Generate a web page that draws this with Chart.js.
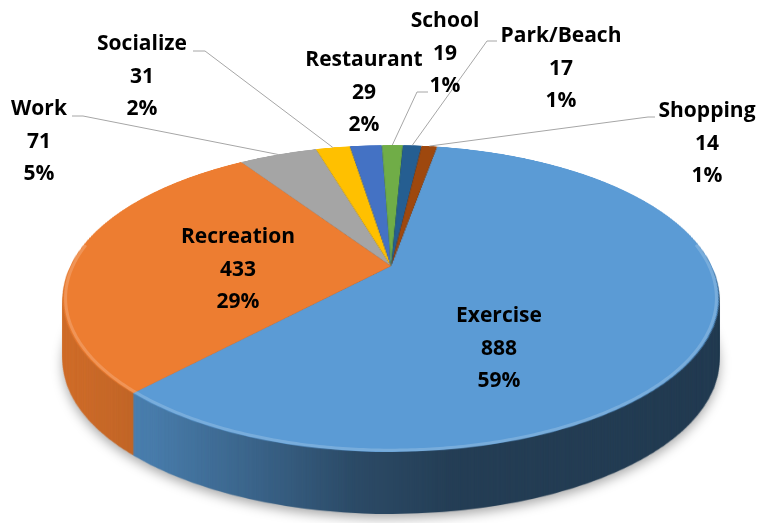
<!DOCTYPE html>
<html>
<head>
<meta charset="utf-8">
<script src="https://cdn.jsdelivr.net/npm/chart.js@4.4.0/dist/chart.umd.min.js"></script>
<style>
  html, body { margin: 0; padding: 0; background: #fff; }
  #chart { display: block; }
</style>
</head>
<body>
<canvas id="chart" width="765" height="523"></canvas>
<script>
// data
const categories = ["Exercise", "Recreation", "Work", "Socialize", "Restaurant", "School", "Park/Beach", "Shopping"];
const visits = [888, 433, 71, 31, 29, 19, 17, 14];

// styles
const sliceColors = ["#5B9BD5", "#ED7D31", "#A5A5A5", "#FFC000", "#4472C4", "#70AD47", "#255E91", "#9E480E"];

// where the tilted pie lands on the page (perspective fit)
const tilt = { cx: 391, cy: 266, rx: 320.6, ry: 146.6, persp: 0.2117, depth: 62 };

// label blocks: centre x, first baseline
const labelSpots = [[499, 322], [238, 243], [39, 115], [142, 50], [364, 66], [445, 27], [561, 42], [707, 117]];
// leader lines: elbow x, elbow y, end x (null = none)
const leaders = [null, null, [83, 116, 72], [205, 51, 193], null, [417, 92, 428], [487, 41, 497], [648, 117, 655]];

const total = visits.reduce((a, b) => a + b, 0);

function project(dx, dy, R) {
  const u = dy / R;
  const w = 1 - tilt.persp * u;
  return [tilt.cx + (tilt.rx * dx) / R / w, tilt.cy + (tilt.ry * u) / w];
}

// squash the flat pie into a 3d looking disc
const tiltPlugin = {
  id: "tilt",
  afterDatasetsDraw(chart) {
    const ctx = chart.ctx;
    const cv = chart.canvas;
    const W = cv.width, H = cv.height;
    const arc = chart.getDatasetMeta(0).data[0];
    const R = arc.outerRadius, ox = arc.x, oy = arc.y;

    const flat = document.createElement("canvas");
    flat.width = W; flat.height = H;
    flat.getContext("2d").drawImage(cv, 0, 0);

    const top = document.createElement("canvas");
    top.width = W; top.height = H;
    const tctx = top.getContext("2d");
    const y0 = Math.floor(tilt.cy - tilt.ry / (1 + tilt.persp)) - 1;
    const y1 = Math.ceil(tilt.cy + tilt.ry / (1 - tilt.persp)) + 1;
    for (let y = y0; y <= y1; y++) {
      const d = y + 0.5 - tilt.cy;
      const u = d / (tilt.ry + tilt.persp * d);
      if (u < -1 || u > 1) continue;
      let sh = Math.max(1, (R * tilt.ry) / Math.pow(tilt.ry + tilt.persp * d, 2));
      let sy = oy + u * R - sh / 2;
      if (sy < 0) { sh += sy; sy = 0; }
      if (sy + sh > H) sh = H - sy;
      if (sh <= 0) continue;
      const s = tilt.rx / R / (1 - tilt.persp * u);
      tctx.drawImage(flat, ox - R - 2, sy, 2 * R + 4, sh, tilt.cx - s * (R + 2), y, s * (2 * R + 4), 1);
    }

    // side wall = darker copy of the top
    const side = document.createElement("canvas");
    side.width = W; side.height = H;
    const sctx = side.getContext("2d");
    sctx.drawImage(top, 0, 0);
    sctx.globalCompositeOperation = "source-atop";
    const g = sctx.createLinearGradient(60, 0, 720, 0);
    g.addColorStop(0, "rgba(0,0,0,0.12)");
    g.addColorStop(0.14, "rgba(0,0,0,0.2)");
    g.addColorStop(0.3, "rgba(0,0,0,0.36)");
    g.addColorStop(0.45, "rgba(0,0,0,0.52)");
    g.addColorStop(0.6, "rgba(0,0,0,0.6)");
    g.addColorStop(1, "rgba(0,0,0,0.62)");
    sctx.fillStyle = g;
    sctx.fillRect(0, 0, W, H);

    ctx.save();
    ctx.setTransform(1, 0, 0, 1, 0, 0);
    ctx.clearRect(0, 0, W, H);
    for (let i = tilt.depth; i >= 1; i--) {
      if (i === tilt.depth) {
        ctx.shadowColor = "rgba(0,0,0,0.35)";
        ctx.shadowBlur = 12;
        ctx.shadowOffsetY = 4;
      } else {
        ctx.shadowColor = "transparent";
        ctx.shadowBlur = 0;
        ctx.shadowOffsetY = 0;
      }
      ctx.drawImage(side, 0, i);
    }
    ctx.drawImage(top, 0, 0);

    // soft bevel on the front rim
    ctx.beginPath();
    for (let a = -0.15; a <= Math.PI + 0.15; a += 0.01) {
      const p = project((R - 2) * Math.cos(a), (R - 2) * Math.sin(a), R);
      if (a === -0.15) ctx.moveTo(p[0], p[1]); else ctx.lineTo(p[0], p[1]);
    }
    ctx.strokeStyle = "rgba(255,255,255,0.18)";
    ctx.lineWidth = 3;
    ctx.stroke();
    ctx.restore();
  },
  afterDraw(chart) {
    const ctx = chart.ctx;
    const meta = chart.getDatasetMeta(0);
    ctx.save();
    // leader lines
    ctx.strokeStyle = "#A6A6A6";
    ctx.lineWidth = 1;
    meta.data.forEach((el, i) => {
      const ld = leaders[i];
      if (!ld) return;
      const mid = (el.startAngle + el.endAngle) / 2;
      const p = project(el.outerRadius * Math.cos(mid), el.outerRadius * Math.sin(mid), el.outerRadius);
      ctx.beginPath();
      ctx.moveTo(p[0], p[1]);
      ctx.lineTo(ld[0], ld[1]);
      ctx.lineTo(ld[2], ld[1]);
      ctx.stroke();
    });
    // labels
    ctx.font = "bold 21px 'Open Sans'";
    ctx.textAlign = "center";
    ctx.fillStyle = "#000";
    categories.forEach((name, i) => {
      const [x, y] = labelSpots[i];
      const pct = Math.round((visits[i] / total) * 100) + "%";
      ctx.fillText(name, x, y);
      ctx.fillText(String(visits[i]), x, y + 32.5);
      ctx.fillText(pct, x, y + 65);
    });
    ctx.restore();
  },
};

new Chart(document.getElementById("chart"), {
  type: "pie",
  data: {
    labels: categories,
    datasets: [
      {
        data: visits,
        backgroundColor: sliceColors,
        borderWidth: 0,
        hoverOffset: 0,
      },
    ],
  },
  options: {
    responsive: false,
    animation: false,
    devicePixelRatio: 1,
    rotation: 10,
    events: [],
    layout: { padding: 0 },
    plugins: {
      legend: { display: false },
      tooltip: { enabled: false },
    },
  },
  plugins: [tiltPlugin],
});
</script>
</body>
</html>
